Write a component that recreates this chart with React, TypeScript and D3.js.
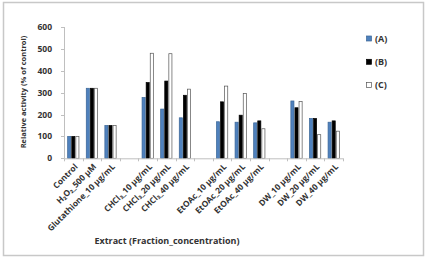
import React, { useEffect, useRef } from "react";
import * as d3 from "d3";

// categories (blank entries are the gaps between extract groups)
const categories = [
  "Control",
  "H₂O₂_500 μM",
  "Glutathione_10 μg/mL",
  "",
  "CHCl₃_10 μg/mL",
  "CHCl₃_20 μg/mL",
  "CHCl₃_40 μg/mL",
  " ",
  "EtOAc_10 μg/mL",
  "EtOAc_20 μg/mL",
  "EtOAc_40 μg/mL",
  "  ",
  "DW_10 μg/mL",
  "DW_20 μg/mL",
  "DW_40 μg/mL",
];

const seriesA = [100, 320, 150, null, 278, 225, 185, null, 167, 165, 162, null, 262, 182, 165];
const seriesB = [100, 320, 150, null, 346, 353, 288, null, 258, 197, 171, null, 231, 182, 171];
const seriesC = [100, 320, 150, null, 480, 478, 316, null, 330, 296, 135, null, 260, 108, 124];

const seriesNames = ["(A)", "(B)", "(C)"];
const yTicks = [0, 100, 200, 300, 400, 500, 600];

const fills = ["#4f81bd", "#000000", "#ffffff"];
const strokes = ["#3a6596", "#000000", "#555555"];

const FONT = "'Open Sans', 'Liberation Sans', sans-serif";
const TEXT = "#333333";

export default function App() {
  const ref = useRef<SVGSVGElement>(null);

  useEffect(() => {
    document.body.style.margin = "0";
    if (!ref.current) return;
    const svg = d3.select(ref.current);
    svg.selectAll("*").remove();

    const left = 64;
    const right = 343;
    const top = 27;

    // frame
    svg
      .append("rect")
      .attr("x", 3.5)
      .attr("y", 2.5)
      .attr("width", 420)
      .attr("height", 253)
      .attr("fill", "#fff")
      .attr("stroke", "#c8c8c8")
      .attr("stroke-width", 1.5);

    const x = d3
      .scaleBand<string>()
      .domain(categories)
      .range([left, right])
      .paddingInner(0.34)
      .paddingOuter(0.17);
    const slot = d3.scaleBand<string>().domain(categories).range([left, right]);
    const y = d3.scaleLinear().domain([0, 600]).range([158.3, top]);
    const inner = d3
      .scaleBand<number>()
      .domain([0, 1, 2])
      .range([0, x.bandwidth()]);

    // y axis
    const yAxis = svg.append("g");
    yAxis
      .append("line")
      .attr("x1", left + 0.5)
      .attr("x2", left + 0.5)
      .attr("y1", y(600))
      .attr("y2", y(0))
      .attr("stroke", "#bfbfbf");
    yTicks.forEach((t) => {
      yAxis
        .append("line")
        .attr("x1", left - 3)
        .attr("x2", left)
        .attr("y1", Math.round(y(t)) + 0.5)
        .attr("y2", Math.round(y(t)) + 0.5)
        .attr("stroke", "#bfbfbf");
      yAxis
        .append("text")
        .attr("x", 52)
        .attr("y", y(t))
        .attr("dy", "0.35em")
        .attr("text-anchor", "end")
        .attr("font-family", FONT)
        .attr("font-weight", "bold")
        .attr("font-size", 8.5)
        .attr("fill", TEXT)
        .text(t);
    });

    // bars
    const all = [seriesA, seriesB, seriesC];
    all.forEach((vals, si) => {
      svg
        .append("g")
        .selectAll("rect")
        .data(categories.map((c, i) => ({ c, v: vals[i] })).filter((d) => d.v != null))
        .enter()
        .append("rect")
        .attr("x", (d) => (x(d.c) as number) + (inner(si) as number) + 0.5)
        .attr("y", (d) => y(d.v as number))
        .attr("width", inner.bandwidth() - 1)
        .attr("height", (d) => y(0) - y(d.v as number))
        .attr("fill", fills[si])
        .attr("stroke", strokes[si])
        .attr("stroke-width", 0.7);
    });

    // x axis
    const xAxis = svg.append("g");
    xAxis
      .append("line")
      .attr("x1", left)
      .attr("x2", right)
      .attr("y1", y(0) + 0.5)
      .attr("y2", y(0) + 0.5)
      .attr("stroke", "#bfbfbf");
    const bounds = categories.map((c) => slot(c) as number).concat([right]);
    bounds.forEach((b) => {
      const bx = Math.round(b) + 0.5;
      xAxis
        .append("line")
        .attr("x1", bx)
        .attr("x2", bx)
        .attr("y1", y(0))
        .attr("y2", y(0) + 3)
        .attr("stroke", "#bfbfbf");
    });
    categories.forEach((c) => {
      if (c.trim() === "") return;
      const cx = (slot(c) as number) + slot.bandwidth() / 2 + 5;
      xAxis
        .append("text")
        .attr("transform", `translate(${cx},${y(0) + 9}) rotate(-45)`)
        .attr("text-anchor", "end")
        .attr("font-family", FONT)
        .attr("font-weight", "bold")
        .attr("font-size", 8.3)
        .attr("fill", TEXT)
        .text(c);
    });

    // axis titles
    svg
      .append("text")
      .attr("transform", `translate(26,92) rotate(-90)`)
      .attr("text-anchor", "middle")
      .attr("font-family", FONT)
      .attr("font-weight", "bold")
      .attr("font-size", 7.5)
      .attr("fill", TEXT)
      .text("Relative activity (% of control)");
    svg
      .append("text")
      .attr("x", 167)
      .attr("y", 244)
      .attr("text-anchor", "middle")
      .attr("font-family", FONT)
      .attr("font-weight", "bold")
      .attr("font-size", 9)
      .attr("fill", TEXT)
      .text("Extract (Fraction_concentration)");

    // legend
    const lg = svg.append("g");
    seriesNames.forEach((n, i) => {
      const ly = 38.5 + i * 23.3;
      lg.append("rect")
        .attr("x", 366.5)
        .attr("y", ly - 2.5)
        .attr("width", 5)
        .attr("height", 5)
        .attr("fill", fills[i])
        .attr("stroke", strokes[i])
        .attr("stroke-width", 0.7);
      lg.append("text")
        .attr("x", 375)
        .attr("y", ly)
        .attr("dy", "0.35em")
        .attr("font-family", FONT)
        .attr("font-weight", "bold")
        .attr("font-size", 9)
        .attr("fill", TEXT)
        .text(n);
    });
  }, []);

  return <svg ref={ref} width={428} height={258} style={{ display: "block" }} />;
}
